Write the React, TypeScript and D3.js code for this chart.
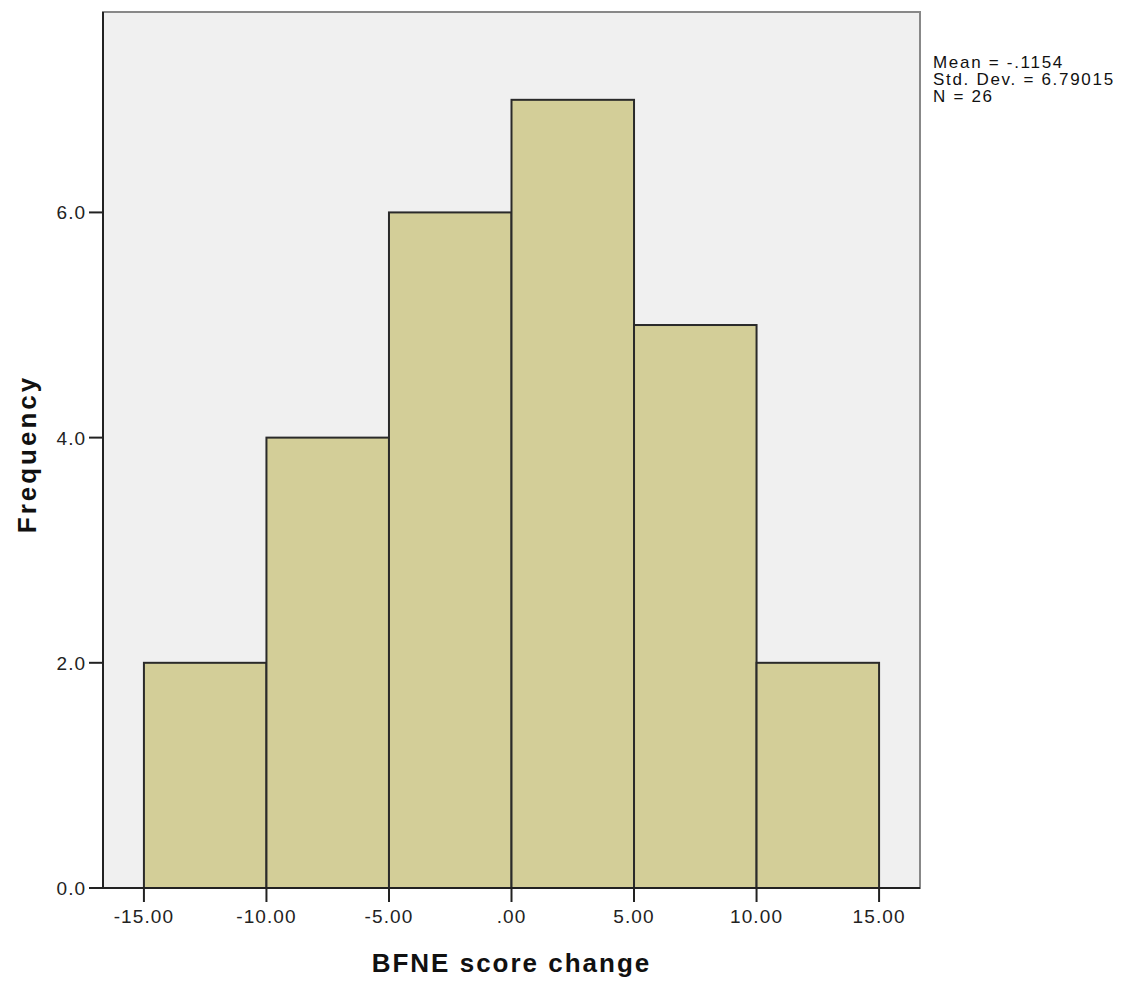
import React from "react";
import * as d3 from "d3";

const binStarts = [-15, -10, -5, 0, 5, 10];
const binWidth = 5;
const frequencies = [2, 4, 6, 7, 5, 2];
const xTicks = [-15, -10, -5, 0, 5, 10, 15];
const yTicks = [0, 2, 4, 6];
const statsLines = ["Mean = -.1154", "Std. Dev. = 6.79015", "N = 26"];

const W = 1131, H = 986;
const L = 103, R = 920, T = 12, B = 888;

function fmtX(v: number) {
  if (v === 0) return ".00";
  return d3.format(".2f")(v).replace("−", "-");
}

export default function App() {
  const x = d3.scaleLinear().domain([-16.67, 16.67]).range([L, R]);
  const y = d3.scaleLinear().domain([0, 7.78]).range([B, T]);
  const font = "Arial, 'Liberation Sans', sans-serif";
  return (
    <svg width={W} height={H} style={{ position: "absolute", left: 0, top: 0 }} fontFamily={font}>
      <rect x={0} y={0} width={W} height={H} fill="#fff" />
      <rect x={L} y={T} width={R - L} height={B - T} fill="#F0F0F0" stroke="#888" strokeWidth={2} />
      {binStarts.map((s, i) => (
        <rect key={i} x={x(s)} y={y(frequencies[i])} width={x(s + binWidth) - x(s)} height={B - y(frequencies[i])}
          fill="#D3CE98" stroke="#2a2a2a" strokeWidth={2} />
      ))}
      <line x1={L} x2={L} y1={T} y2={B} stroke="#222" strokeWidth={2} />
      <line x1={L} x2={R} y1={B} y2={B} stroke="#222" strokeWidth={2} />
      {yTicks.map((t) => (
        <g key={t}>
          <line x1={L - 14} x2={L} y1={y(t)} y2={y(t)} stroke="#222" strokeWidth={2} />
          <text x={L - 17} y={y(t) + 7} textAnchor="end" fontSize={19} letterSpacing={1} fill="#222">{d3.format(".1f")(t)}</text>
        </g>
      ))}
      {xTicks.map((t) => (
        <g key={t}>
          <line x1={x(t)} x2={x(t)} y1={B} y2={B + 14} stroke="#222" strokeWidth={2} />
          <text x={x(t)} y={923} textAnchor="middle" fontSize={19} letterSpacing={1.1} fill="#222">{fmtX(t)}</text>
        </g>
      ))}
      <text x={(L + R) / 2} y={972} textAnchor="middle" fontSize={26} letterSpacing={2} fontWeight="bold" fill="#111">BFNE score change</text>
      <text transform={`translate(36, 454) rotate(-90)`} textAnchor="middle" fontSize={26} letterSpacing={3} fontWeight="bold" fill="#111">Frequency</text>
      {statsLines.map((s, i) => (
        <text key={i} x={933} y={68 + i * 17} fontSize={17} letterSpacing={1.7} fill="#111">{s}</text>
      ))}
    </svg>
  );
}
